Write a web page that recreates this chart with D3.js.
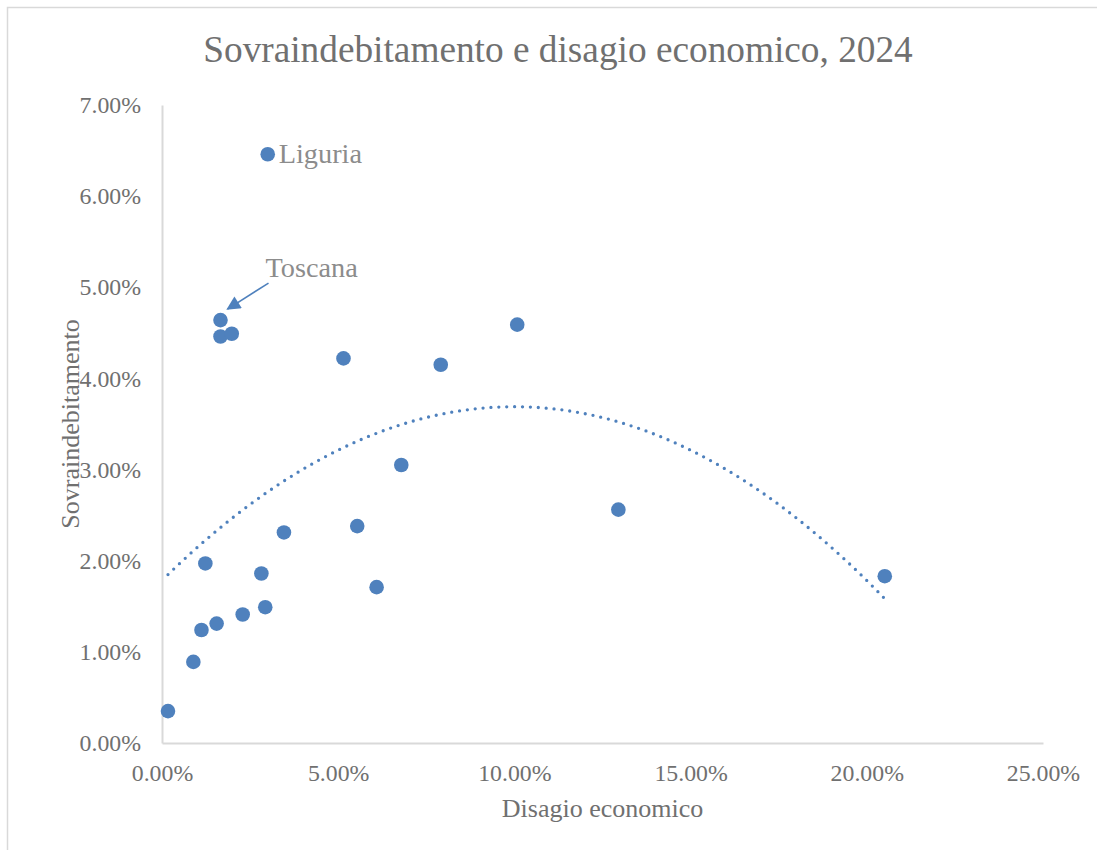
<!DOCTYPE html>
<html>
<head>
<meta charset="utf-8">
<script src="https://cdn.jsdelivr.net/npm/d3@7"></script>
<style>
  body { margin: 0; background: #fff; }
  svg text { font-family: "Liberation Serif", "Times New Roman", serif; }
</style>
</head>
<body>
<div id="scatter_chart"></div>
<script>
// disagio economico (x) and sovraindebitamento (y), one value per region
var disagio = [0.0017, 0.0089, 0.0112, 0.0155, 0.0229, 0.0293, 0.0123, 0.0282, 0.0346, 0.0554,
               0.0609, 0.0515, 0.0791, 0.1008, 0.0679, 0.1295, 0.2051, 0.0300, 0.0166, 0.0166, 0.0198];
var sovraind = [0.0035, 0.0089, 0.0124, 0.0131, 0.0141, 0.0149, 0.0197, 0.0186, 0.0231, 0.0238,
                0.0171, 0.0422, 0.0415, 0.0459, 0.0305, 0.0256, 0.0183, 0.0646, 0.0464, 0.0446, 0.0449];
var labels = ["", "", "", "", "", "", "", "", "", "",
              "", "", "", "", "", "", "", "Liguria", "Toscana", "", ""];
var xTicks = [0, 0.05, 0.10, 0.15, 0.20, 0.25];
var yTicks = [0, 0.01, 0.02, 0.03, 0.04, 0.05, 0.06, 0.07];

var titleText = "Sovraindebitamento e disagio economico, 2024";
var xTitle = "Disagio economico";
var yTitle = "Sovraindebitamento";

function scatterChart(id) {
    var W = 1097, H = 850;
    var left = 162, right = 1043, top = 105, bottom = 743;
    var blue = "#4f81bd";

    var svg = d3.select("#" + id)
        .html("")
        .append("svg")
        .attr("width", W)
        .attr("height", H);

    // chart border
    svg.append("rect")
        .attr("x", 7.5).attr("y", 7.5)
        .attr("width", W + 20).attr("height", H + 20)
        .attr("fill", "#fff")
        .attr("stroke", "#d9d9d9")
        .attr("stroke-width", 1.5);

    var x = d3.scaleLinear().domain([0, 0.25]).range([left, right]);
    var y = d3.scaleLinear().domain([0, 0.07]).range([bottom, top]);

    svg.append("text")
        .attr("x", 558).attr("y", 62)
        .attr("text-anchor", "middle")
        .attr("font-size", 37.3)
        .attr("fill", "#707070")
        .text(titleText);

    var xAxis = svg.append("g")
        .attr("transform", "translate(0," + bottom + ")")
        .call(d3.axisBottom(x).tickValues(xTicks).tickFormat(d3.format(".2%"))
            .tickSize(0).tickSizeOuter(0).tickPadding(21));

    var yAxis = svg.append("g")
        .attr("transform", "translate(" + left + ",0)")
        .call(d3.axisLeft(y).tickValues(yTicks).tickFormat(d3.format(".2%"))
            .tickSize(0).tickSizeOuter(0).tickPadding(21));

    [xAxis, yAxis].forEach(function (g) {
        g.select(".domain").attr("stroke", "#d9d9d9").attr("stroke-width", 2);
        g.selectAll("text")
            .attr("font-family", "Liberation Serif")
            .attr("font-size", 23.8)
            .attr("fill", "#707070");
    });

    svg.append("text")
        .attr("x", (left + right) / 2).attr("y", 817)
        .attr("text-anchor", "middle")
        .attr("font-size", 26)
        .attr("fill", "#707070")
        .text(xTitle);

    svg.append("text")
        .attr("transform", "translate(79," + (top + bottom) / 2 + ") rotate(-90)")
        .attr("text-anchor", "middle")
        .attr("font-size", 26)
        .attr("fill", "#707070")
        .text(yTitle);

    // polynomial (order 2) trendline by least squares
    var n = disagio.length, S = [0, 0, 0, 0, 0], T = [0, 0, 0];
    for (var i = 0; i < n; i++) {
        var xv = disagio[i], yv = sovraind[i];
        for (var k = 0; k < 5; k++) S[k] += Math.pow(xv, k);
        for (var k = 0; k < 3; k++) T[k] += yv * Math.pow(xv, k);
    }
    var A = [[S[0], S[1], S[2], T[0]], [S[1], S[2], S[3], T[1]], [S[2], S[3], S[4], T[2]]];
    for (var c = 0; c < 3; c++) {
        for (var r = c + 1; r < 3; r++) {
            var f = A[r][c] / A[c][c];
            for (var k = c; k < 4; k++) A[r][k] -= f * A[c][k];
        }
    }
    var coef = [0, 0, 0];
    for (var r = 2; r >= 0; r--) {
        var s = A[r][3];
        for (var k = r + 1; k < 3; k++) s -= A[r][k] * coef[k];
        coef[r] = s / A[r][r];
    }
    var ext = d3.extent(disagio);
    var trend = d3.range(0, 101).map(function (j) {
        var xv = ext[0] + (ext[1] - ext[0]) * j / 100;
        return [xv, coef[0] + coef[1] * xv + coef[2] * xv * xv];
    });
    svg.append("path")
        .datum(trend)
        .attr("fill", "none")
        .attr("stroke", blue)
        .attr("stroke-width", 3.3)
        .attr("stroke-linecap", "round")
        .attr("stroke-dasharray", "0 7.9")
        .attr("d", d3.line().x(d => x(d[0])).y(d => y(d[1])));

    // points
    svg.append("g").selectAll("circle")
        .data(disagio)
        .enter().append("circle")
        .attr("cx", (d, i) => x(d))
        .attr("cy", (d, i) => y(sovraind[i]))
        .attr("r", 7.3)
        .attr("fill", blue);

    // arrow marker
    svg.append("defs").append("marker")
        .attr("id", "arrow")
        .attr("viewBox", "0 0 10 10")
        .attr("refX", 9).attr("refY", 5)
        .attr("markerWidth", 16).attr("markerHeight", 14)
        .attr("markerUnits", "userSpaceOnUse")
        .attr("orient", "auto")
        .append("path")
        .attr("d", "M0,0 L10,5 L0,10 Z")
        .attr("fill", blue);

    labels.forEach(function (lab, i) {
        if (!lab) return;
        var px = x(disagio[i]), py = y(sovraind[i]);
        if (lab === "Toscana") {
            svg.append("text")
                .attr("x", px + 45).attr("y", py - 43)
                .attr("font-size", 28.3)
                .attr("fill", "#8c8c8c")
                .text(lab);
            svg.append("line")
                .attr("x1", px + 48).attr("y1", py - 37)
                .attr("x2", px + 7).attr("y2", py - 11)
                .attr("stroke", blue)
                .attr("stroke-width", 1.6)
                .attr("marker-end", "url(#arrow)");
        } else {
            svg.append("text")
                .attr("x", px + 11).attr("y", py)
                .attr("dy", "0.3em")
                .attr("font-size", 28.3)
                .attr("fill", "#8c8c8c")
                .text(lab);
        }
    });
}

scatterChart("scatter_chart");
</script>
</body>
</html>
